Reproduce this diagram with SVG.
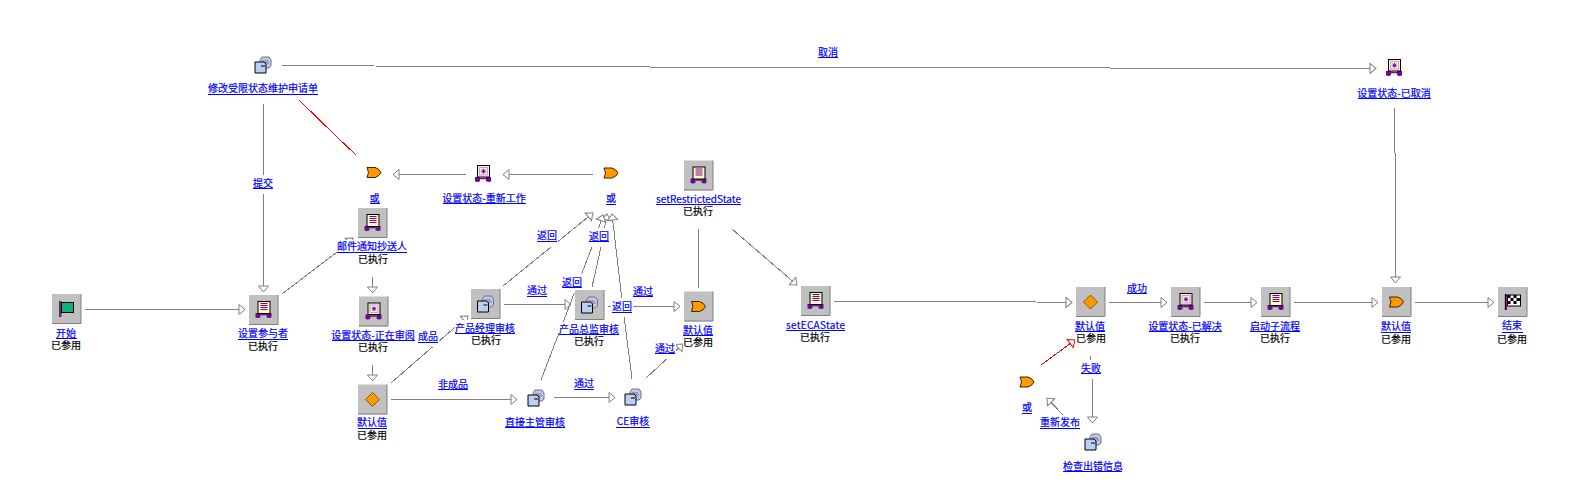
<svg xmlns="http://www.w3.org/2000/svg" xmlns:xlink="http://www.w3.org/1999/xlink" width="1589" height="492" viewBox="0 0 1589 492">
<style>
text{font-family:"Noto Sans CJK SC","Liberation Sans",sans-serif;font-size:10px;text-anchor:middle}
.l{fill:#0000ff;stroke:#0000ff;stroke-width:.2}
.s{fill:#000;stroke:#000;stroke-width:.2}
.u{stroke:#0000ff;stroke-width:1;shape-rendering:crispEdges}
.bg{fill:#fff}
.c{fill:none;stroke:#808080;stroke-width:1;shape-rendering:crispEdges}
.a{marker-end:url(#h)}
.r{fill:none;stroke:#ff0000;stroke-width:1;shape-rendering:crispEdges}
</style>
<defs>
<marker id="h" markerUnits="userSpaceOnUse" markerWidth="14" markerHeight="14" viewBox="-8 -7 14 14" refX="6" refY="0" orient="auto" overflow="visible"><path d="M0-5 6 0 0 5Z" fill="#fff" stroke="#808080"/></marker>
<marker id="hr" markerUnits="userSpaceOnUse" markerWidth="14" markerHeight="14" viewBox="-8 -7 14 14" refX="6" refY="0" orient="auto" overflow="visible"><path d="M0-5 6 0 0 5Z" fill="#fff" stroke="#ff0000"/></marker>
<g id="box"><rect x="-14.5" y="-15" width="29" height="30" fill="#c0c0c0"/><path d="M-14.5 14.5H14.5V-15" fill="none" stroke="#808080"/></g>
<g id="doc"><path d="M-3-5-1-8H6L8-5V1L6 3H-3Z" fill="#c4c4e4" stroke="#707090"/><path d="M-1-4H5M2-2H6" stroke="#707090" fill="none"/><path d="M-8-3H1L3-1V8H-8Z" fill="#b8d0f4" stroke="#000"/><path d="M-2 1H2" stroke="#000"/></g>
<g id="feet"><path d="M-8 3H-3V7Q-5 8.500-8 7.500ZM3 3H8V7.500Q5 8.500 3 7Z" fill="#6a0a8c"/><path d="M-3 4.500H3" stroke="#6a0a8c" stroke-width="1.500"/></g>
<g id="status"><use xlink:href="#feet" href="#feet"/><rect x="-5.500" y="-8.500" width="12" height="11.500" fill="#fff8c8" stroke="#000"/><rect x="-3.500" y="-6.500" width="8" height="7.500" fill="#f4e8e8" stroke="#c8a0c8"/><path d="M.5-5V-.5M-1.700-2.700H2.700M-1-4.300 2-1.200M2-4.300-1-1.200" stroke="#8000a0"/></g>
<g id="mail"><use xlink:href="#feet" href="#feet"/><rect x="-5.500" y="-8.500" width="12" height="12" fill="#fff8c8" stroke="#000"/><path d="M-3-6.500H4M-3-4.500H4M-3-2.500H4M-3-.5H4" stroke="#800080"/></g>
<g id="or"><path d="M-7-5H1Q5-4 7 0 5 4 1 5H-7Q-4 0-7-5Z" fill="#ff9900" stroke="#402000"/></g>
<g id="dia"><path d="M0-7 7 0 0 7-7 0Z" fill="#ff9900" stroke="#806000"/></g>
<g id="start"><path d="M-6.500-8V8" stroke="#000" stroke-width="1.300"/><path d="M-5.500-8V8" stroke="#a000a0"/><rect x="-5" y="-6.500" width="12" height="10" fill="#10b080" stroke="#000"/></g>
<g id="stop"><path d="M-7-8V8" stroke="#000" stroke-width="1.300"/><path d="M-6-8V8" stroke="#a000a0"/><rect x="-5" y="-7" width="13" height="11" fill="#fff" stroke="#000"/><path d="M-5-7h3v3h-3zM1-7h3v3h-3zM-2-4h3v3h-3zM4-4h4v3h-4zM-5-1h3v3h-3zM1-1h3v3h-3z" fill="#000"/></g>
</defs>

<g id="connectors">
<path class="c a" d="M85 309.500H245"/>
<path class="c a" d="M263.500 104V292"/>
<path class="c a" d="M282 294 337 252 353 238"/>
<path class="c a" d="M372.500 277V293"/>
<path class="c a" d="M372.500 365V381"/>
<path class="c a" d="M391 383 468 316"/>
<path class="c a" d="M391 399.500H517"/>
<path class="c a" d="M504 304.500H571"/>
<path class="c a" d="M503 286 593 213"/>
<path class="c a" d="M592 287 601 247 607 214"/>
<path class="c a" d="M541 380 582 273 592 247 603 215"/>
<path class="c a" d="M632 379 622 300 612 214"/>
<path class="c a" d="M608 306.500H680"/>
<path class="c a" d="M554 397.500H615"/>
<path class="c a" d="M646 378 683 344"/>
<path class="c" d="M698.500 229V288"/>
<path class="c a" d="M732 229 797 285"/>
<path class="c a" d="M834 301.500H1000L1072 302.500"/>
<path class="c a" d="M1109 302.500H1167"/>
<path class="c a" d="M1204 302.500H1257"/>
<path class="c a" d="M1294 302.500H1378"/>
<path class="c a" d="M1415 302.500H1494"/>
<path class="c a" d="M282 65.500 465 66.500 829 67.500 1376 68.500"/>
<path class="c a" d="M1394.500 108 1395.500 196V283"/>
<path class="c a" d="M593 174.500H503"/>
<path class="c a" d="M466 174.500H393"/>
<path class="r" d="M299 100 337 137 356 155"/>
<path class="r" d="M1041 365 1075 340" marker-end="url(#hr)"/>
<path class="c" d="M1090.500 356V360"/>
<path class="c a" d="M1092.500 379V423"/>
<path class="c a" d="M1063 415 1047 398"/>

<g id="lbl-tijiao"><rect class="bg" x="252" y="175" width="22" height="19"/><text class="l" x="263" y="187">提交</text><path class="u" d="M253 188.500H273"/></g>
<g id="lbl-quxiao"><rect class="bg" x="817" y="44" width="22" height="15"/><text class="l" x="828" y="56">取消</text><path class="u" d="M818 57.500H838"/></g>
<g id="lbl-chengpin"><rect class="bg" x="417" y="328" width="22" height="19"/><text class="l" x="428" y="340">成品</text><path class="u" d="M418 342.500H438"/></g>
<g id="lbl-fanhui1"><rect class="bg" x="536" y="227" width="22" height="20"/><text class="l" x="547" y="239">返回</text><path class="u" d="M537 241.500H557"/></g>
<g id="lbl-tongguo1"><rect class="bg" x="526" y="282" width="22" height="16"/><text class="l" x="537" y="294">通过</text><path class="u" d="M527 296.500H547"/></g>
<g id="lbl-fanhui2"><rect class="bg" x="588" y="228" width="22" height="19"/><text class="l" x="599" y="240">返回</text><path class="u" d="M589 241.500H609"/></g>
<g id="lbl-fanhui3"><rect class="bg" x="561" y="274" width="22" height="19"/><text class="l" x="572" y="286">返回</text><path class="u" d="M562 287.500H582"/></g>
<g id="lbl-tongguo2"><rect class="bg" x="632" y="283" width="22" height="15"/><text class="l" x="643" y="295">通过</text><path class="u" d="M633 296.500H653"/></g>
<g id="lbl-fanhui4"><rect class="bg" x="611" y="298" width="22" height="19"/><text class="l" x="622" y="310">返回</text><path class="u" d="M612 312.500H632"/></g>
<g id="lbl-tongguo3"><rect class="bg" x="654" y="340" width="22" height="19"/><text class="l" x="665" y="352">通过</text><path class="u" d="M655 353.500H675"/></g>
<g id="lbl-feichengpin"><rect class="bg" x="437" y="376" width="32" height="15"/><text class="l" x="453" y="388">非成品</text><path class="u" d="M438 389.500H468"/></g>
<g id="lbl-tongguo4"><rect class="bg" x="573" y="375" width="22" height="15"/><text class="l" x="584" y="387">通过</text><path class="u" d="M574 389.500H594"/></g>
<g id="lbl-chenggong"><rect class="bg" x="1126" y="280" width="22" height="15"/><text class="l" x="1137" y="292">成功</text><path class="u" d="M1127 293.500H1147"/></g>
<g id="lbl-shibai"><rect class="bg" x="1080" y="360" width="22" height="19"/><text class="l" x="1091" y="372">失败</text><path class="u" d="M1081 373.500H1101"/></g>
<g id="lbl-chongxin"><rect class="bg" x="1039" y="415" width="42" height="15"/><text class="l" x="1060" y="426">重新发布</text><path class="u" d="M1040 428.500H1080"/></g>
</g>

<g id="n-start"><use href="#box" x="66.500" y="309"/><use href="#start" x="66.500" y="309"/><rect class="bg" x="52" y="326" width="30" height="25"/><text class="l" x="66" y="337">开始</text><path class="u" d="M56 338.500H77"/><text class="s" x="66" y="349">已参用</text></g>
<g id="n-participants"><use href="#box" x="263.500" y="310"/><use href="#mail" x="263.500" y="310"/><rect class="bg" x="238" y="326" width="50" height="25"/><text class="l" x="263" y="337">设置参与者</text><path class="u" d="M238 339.500H288"/><text class="s" x="263" y="350">已执行</text></g>
<g id="n-modify"><use href="#doc" x="263" y="65"/><rect class="bg" x="208" y="81" width="110" height="15"/><text class="l" x="263" y="92">修改受限状态维护申请单</text><path class="u" d="M208 94.500H318"/></g>
<g id="n-or1"><use href="#or" x="374" y="172.500"/><text class="l" x="374.500" y="202">或</text><path class="u" d="M370 203.500H380"/></g>
<g id="n-rework"><use href="#status" x="483" y="174"/><text class="l" x="484" y="202">设置状态-重新工作</text><path class="u" d="M443 203.500H526"/></g>
<g id="n-or2"><use href="#or" x="611" y="173"/><text class="l" x="611" y="202">或</text><path class="u" d="M606 204.500H616"/></g>
<g id="n-mail"><use href="#box" x="372.500" y="223"/><use href="#mail" x="372.500" y="223"/><rect class="bg" x="337" y="240" width="70" height="26"/><text class="l" x="372" y="250">邮件通知抄送人</text><path class="u" d="M337 252.500H407"/><text class="s" x="373" y="263">已执行</text></g>
<g id="n-reviewing"><use href="#box" x="373.500" y="311.500"/><use href="#status" x="373.500" y="311.500"/><rect class="bg" x="332" y="328" width="84" height="25"/><text class="l" x="373" y="339">设置状态-正在审阅</text><path class="u" d="M332 340.500H415"/><text class="s" x="373" y="351">已执行</text></g>
<g id="n-default1"><use href="#box" x="372.500" y="399.500"/><use href="#dia" x="372.500" y="399.500"/><text class="l" x="372" y="426">默认值</text><path class="u" d="M358 428.500H387"/><text class="s" x="372" y="439">已参用</text></g>
<g id="n-pm"><use href="#box" x="485.500" y="304"/><use href="#doc" x="485.500" y="304"/><rect class="bg" x="455" y="320" width="60" height="27"/><text class="l" x="485" y="332">产品经理审核</text><path class="u" d="M455 333.500H515"/><text class="s" x="486" y="344">已执行</text></g>
<g id="n-director"><use href="#box" x="589.500" y="305"/><use href="#doc" x="589.500" y="305"/><rect class="bg" x="559" y="322" width="60" height="26"/><text class="l" x="589" y="333">产品总监审核</text><path class="u" d="M559 334.500H619"/><text class="s" x="589" y="345">已执行</text></g>
<g id="n-manager"><use href="#doc" x="536" y="398"/><text class="l" x="535" y="426">直接主管审核</text><path class="u" d="M505 427.500H565"/></g>
<g id="n-ce"><use href="#doc" x="633" y="397"/><text class="l" x="633" y="425">CE审核</text><path class="u" d="M616 427.500H650"/></g>
<g id="n-default2"><use href="#box" x="698.500" y="306.500"/><use href="#or" x="698.500" y="306.500"/><rect class="bg" x="683" y="323" width="30" height="26"/><text class="l" x="698" y="334">默认值</text><path class="u" d="M683 335.500H713"/><text class="s" x="698" y="346">已参用</text></g>
<g id="n-restricted"><use href="#box" x="698.500" y="175.500"/><use href="#mail" x="698.500" y="175.500"/><text class="l" x="698.500" y="203" textLength="85" lengthAdjust="spacing">setRestrictedState</text><path class="u" d="M656 204.500H741"/><text class="s" x="698" y="215">已执行</text></g>
<g id="n-eca"><use href="#box" x="815.500" y="301"/><use href="#mail" x="815.500" y="301"/><text class="l" x="815.500" y="329" textLength="59" lengthAdjust="spacing">setECAState</text><path class="u" d="M786 330.500H845"/><text class="s" x="815" y="341">已执行</text></g>
<g id="n-default3"><use href="#box" x="1090.500" y="302"/><use href="#dia" x="1090.500" y="302"/><rect class="bg" x="1075" y="318" width="30" height="26"/><text class="l" x="1090" y="330">默认值</text><path class="u" d="M1075 331.500H1105"/><text class="s" x="1091" y="342">已参用</text></g>
<g id="n-resolved"><use href="#box" x="1185.500" y="302"/><use href="#status" x="1185.500" y="302"/><text class="l" x="1185" y="330">设置状态-已解决</text><path class="u" d="M1149 331.500H1222"/><text class="s" x="1185" y="342">已执行</text></g>
<g id="n-subflow"><use href="#box" x="1275.500" y="302"/><use href="#mail" x="1275.500" y="302"/><text class="l" x="1275" y="330">启动子流程</text><path class="u" d="M1250 331.500H1300"/><text class="s" x="1275" y="342">已执行</text></g>
<g id="n-default4"><use href="#box" x="1396.500" y="302"/><use href="#or" x="1396.500" y="302"/><text class="l" x="1396" y="330">默认值</text><path class="u" d="M1381 332.500H1411"/><text class="s" x="1396" y="343">已参用</text></g>
<g id="n-end"><use href="#box" x="1512.500" y="302"/><use href="#stop" x="1512.500" y="302"/><text class="l" x="1512" y="329">结束</text><path class="u" d="M1502 332.500H1523"/><text class="s" x="1512" y="343">已参用</text></g>
<g id="n-cancelled"><use href="#status" x="1394" y="68"/><text class="l" x="1394" y="97">设置状态-已取消</text><path class="u" d="M1358 98.500H1431"/></g>
<g id="n-or3"><use href="#or" x="1027" y="382"/><text class="l" x="1027" y="411">或</text><path class="u" d="M1022 413.500H1032"/></g>
<g id="n-check"><use href="#doc" x="1093" y="442"/><text class="l" x="1093" y="470">检查出错信息</text><path class="u" d="M1063 471.500H1122"/></g>
</svg>
